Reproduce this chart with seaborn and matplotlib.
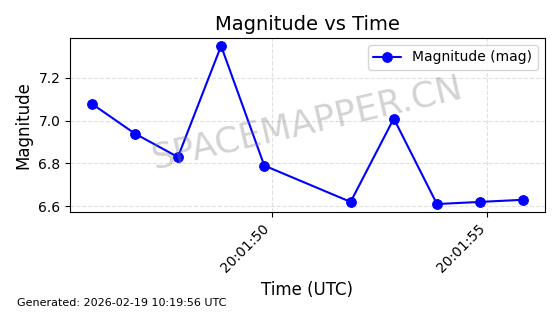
import matplotlib
matplotlib.use("Agg")
import matplotlib.pyplot as plt
import matplotlib.dates as mdates
import seaborn as sns
import pandas as pd

times = ["2026-02-19 20:01:45.83", "2026-02-19 20:01:46.83", "2026-02-19 20:01:47.83",
         "2026-02-19 20:01:48.83", "2026-02-19 20:01:49.83", "2026-02-19 20:01:51.83",
         "2026-02-19 20:01:52.83", "2026-02-19 20:01:53.83", "2026-02-19 20:01:54.83",
         "2026-02-19 20:01:55.83"]
magnitude = [7.08, 6.94, 6.83, 7.35, 6.79, 6.62, 7.01, 6.61, 6.62, 6.63]

df = pd.DataFrame({"time": pd.to_datetime(times), "mag": magnitude})

sns.set_style("ticks")
plt.rcParams['font.family'] = ['DejaVu Sans']
plt.rcParams.update({"text.color": "black", "axes.labelcolor": "black",
                     "xtick.color": "black", "ytick.color": "black"})

fig = plt.figure(figsize=(5.6, 3.14), dpi=100)
ax = fig.add_axes([0.125, 0.325, 0.848, 0.554])

sns.lineplot(data=df, x="time", y="mag", ax=ax, color="blue", marker="o",
             markersize=7, markeredgecolor="blue", linewidth=1.5,
             label="Magnitude (mag)")

ax.set_title("Magnitude vs Time", fontsize=14)
ax.set_xlabel("Time (UTC)", fontsize=12)
ax.set_ylabel("Magnitude", fontsize=12)
ax.grid(True, linestyle="--", alpha=0.6)
ax.xaxis.set_major_locator(mdates.SecondLocator(bysecond=range(0, 60, 5)))
ax.xaxis.set_major_formatter(mdates.DateFormatter("%H:%M:%S"))
ax.set_yticks([6.6, 6.8, 7.0, 7.2])
plt.setp(ax.get_xticklabels(), rotation=45, ha="right")
for s in ax.spines.values():
    s.set_color("black")
ax.legend(loc="upper right", fontsize=10)

ax.text(0.5, 0.51, "SPACEMAPPER.CN", transform=ax.transAxes, fontsize=25.5,
        color="gray", alpha=0.35, rotation=13, ha="center", va="center")

fig.text(0.03, 0.025, "Generated: 2026-02-19 10:19:56 UTC", fontsize=8)

fig.savefig("out.png", dpi=100)
